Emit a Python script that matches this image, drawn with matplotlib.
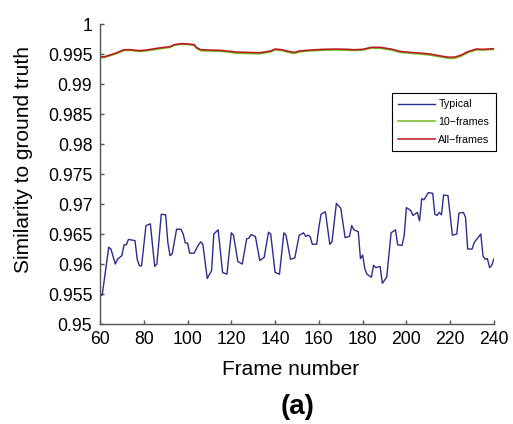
import numpy as np
import matplotlib
matplotlib.use('Agg')
import matplotlib.pyplot as plt

plt.rcParams['font.family'] = ['Liberation Sans', 'DejaVu Sans']

# typical per-frame similarity
frames_typ = [60, 61, 64, 65, 67, 68, 70, 71, 72, 73, 76, 77, 78, 79, 81, 83, 85, 86, 88, 90,
              91, 92, 93, 95, 97, 98, 99, 100, 101, 103, 105, 106, 107, 109, 111, 112, 114, 116, 118, 120,
              121, 123, 125, 127, 128, 129, 131, 133, 135, 137, 138, 140, 142, 144, 145, 147, 149, 151, 153, 154,
              155, 156, 157, 159, 160, 161, 163, 165, 166, 168, 170, 172, 174, 175, 176, 178, 179, 180, 181, 182,
              184, 185, 186, 188, 189, 191, 193, 195, 196, 198, 199, 200, 202, 203, 205, 206, 207, 208, 210, 212,
              213, 214, 215, 216, 217, 219, 221, 223, 224, 226, 227, 228, 230, 231, 234, 235, 236, 237, 238, 239,
              240]
sim_typ = [0.9548, 0.9548, 0.9628, 0.9625, 0.9600, 0.9608, 0.9614, 0.9632, 0.9632, 0.9641,
           0.9639, 0.9608, 0.9597, 0.9597, 0.9664, 0.9667, 0.9596, 0.9600, 0.9683, 0.9682,
           0.9636, 0.9614, 0.9617, 0.9658, 0.9658, 0.9650, 0.9635, 0.9635, 0.9618, 0.9618,
           0.9632, 0.9637, 0.9633, 0.9576, 0.9589, 0.9650, 0.9657, 0.9586, 0.9583, 0.9652,
           0.9648, 0.9604, 0.9600, 0.9642, 0.9643, 0.9649, 0.9646, 0.9606, 0.9611, 0.9653,
           0.9650, 0.9586, 0.9583, 0.9652, 0.9648, 0.9608, 0.9610, 0.9648, 0.9652, 0.9646,
           0.9648, 0.9646, 0.9633, 0.9633, 0.9661, 0.9683, 0.9687, 0.9633, 0.9637, 0.9701,
           0.9693, 0.9644, 0.9646, 0.9664, 0.9657, 0.9654, 0.9609, 0.9615, 0.9592, 0.9583,
           0.9578, 0.9598, 0.9594, 0.9596, 0.9568, 0.9578, 0.9652, 0.9657, 0.9632, 0.9631,
           0.9648, 0.9694, 0.9689, 0.9681, 0.9686, 0.9672, 0.9709, 0.9707, 0.9719, 0.9718,
           0.9683, 0.9681, 0.9686, 0.9682, 0.9715, 0.9714, 0.9648, 0.9650, 0.9685, 0.9686,
           0.9678, 0.9625, 0.9625, 0.9636, 0.9650, 0.9613, 0.9608, 0.9609, 0.9594, 0.9598,
           0.9609]

# 10-frames and all-frames models
frames_top = [60, 62, 66, 68, 71, 74, 78, 81, 84, 87, 92, 94, 97, 100, 103, 104, 106, 110, 115, 118,
              122, 127, 133, 138, 140, 143, 147, 149, 151, 156, 162, 168, 173, 176, 180, 184, 188, 193, 197, 202,
              206, 211, 215, 219, 222, 225, 228, 232, 235, 240]
sim_10 = [0.99440, 0.99442, 0.99488, 0.99512, 0.99558, 0.99560, 0.99542, 0.99550, 0.99568, 0.99585,
          0.99610, 0.99645, 0.99662, 0.99658, 0.99645, 0.99598, 0.99556, 0.99550, 0.99545, 0.99535,
          0.99515, 0.99508, 0.99505, 0.99535, 0.99570, 0.99558, 0.99520, 0.99510, 0.99535, 0.99552,
          0.99563, 0.99568, 0.99562, 0.99558, 0.99565, 0.99598, 0.99596, 0.99568, 0.99528, 0.99512,
          0.99500, 0.99482, 0.99455, 0.99430, 0.99428, 0.99465, 0.99522, 0.99570, 0.99566, 0.99578]
sim_all = [0.99455, 0.99455, 0.99500, 0.99528, 0.99573, 0.99573, 0.99556, 0.99567, 0.99584, 0.99601,
           0.99624, 0.99657, 0.99674, 0.99669, 0.99657, 0.99612, 0.99573, 0.99567, 0.99562, 0.99551,
           0.99534, 0.99528, 0.99522, 0.99551, 0.99584, 0.99573, 0.99539, 0.99528, 0.99551, 0.99567,
           0.99579, 0.99584, 0.99579, 0.99573, 0.99579, 0.99612, 0.99612, 0.99584, 0.99545, 0.99528,
           0.99517, 0.99500, 0.99472, 0.99449, 0.99449, 0.99483, 0.99539, 0.99584, 0.99579, 0.99590]

xticks = np.arange(60, 241, 20)
yticks = np.arange(0.95, 1.0001, 0.005)

fig = plt.figure(figsize=(5.13, 4.24), dpi=100)
ax = fig.add_axes([0.1949, 0.2358, 0.768, 0.7075])

ax.plot(frames_typ, sim_typ, color='#2b2d8e', lw=1.0, label='Typical')
ax.plot(frames_top, sim_10, color='#6cb81e', lw=1.1, label='10\u2212frames')
ax.plot(frames_top, sim_all, color='#c0141c', lw=1.1, label='All\u2212frames')

ax.set_xlim(60, 240)
ax.set_ylim(0.95, 1.0)
ax.set_xticks(xticks)
ax.set_yticks(yticks)
ax.set_yticklabels(['%g' % round(v, 3) for v in yticks])

for s in ['top', 'right']:
    ax.spines[s].set_visible(False)
for s in ['left', 'bottom']:
    ax.spines[s].set_color('#555555')
    ax.spines[s].set_linewidth(1.0)
ax.tick_params(direction='in', length=3, width=1.0, color='#555555', labelsize=12.7)
ax.tick_params(axis='y', pad=5.5)
ax.tick_params(axis='x', pad=5)

ax.set_xlabel('Frame number', fontsize=15)
ax.set_ylabel('Similarity to ground truth', fontsize=15)
ax.xaxis.set_label_coords(0.483, -0.12)
ax.yaxis.set_label_coords(-0.17, 0.55)

fig.text(0.58, 0.04, '(a)', fontsize=20, fontweight='bold', ha='center', va='center')

leg = ax.legend(loc='upper right', bbox_to_anchor=(1.005, 0.77), borderaxespad=0,
                fontsize=7.7, handlelength=3.45, handletextpad=0.3, borderpad=0.6,
                labelspacing=0.72, fancybox=False, framealpha=1)
leg.get_frame().set_edgecolor('black')
leg.get_frame().set_linewidth(0.8)

fig.savefig('out.png', dpi=100)
